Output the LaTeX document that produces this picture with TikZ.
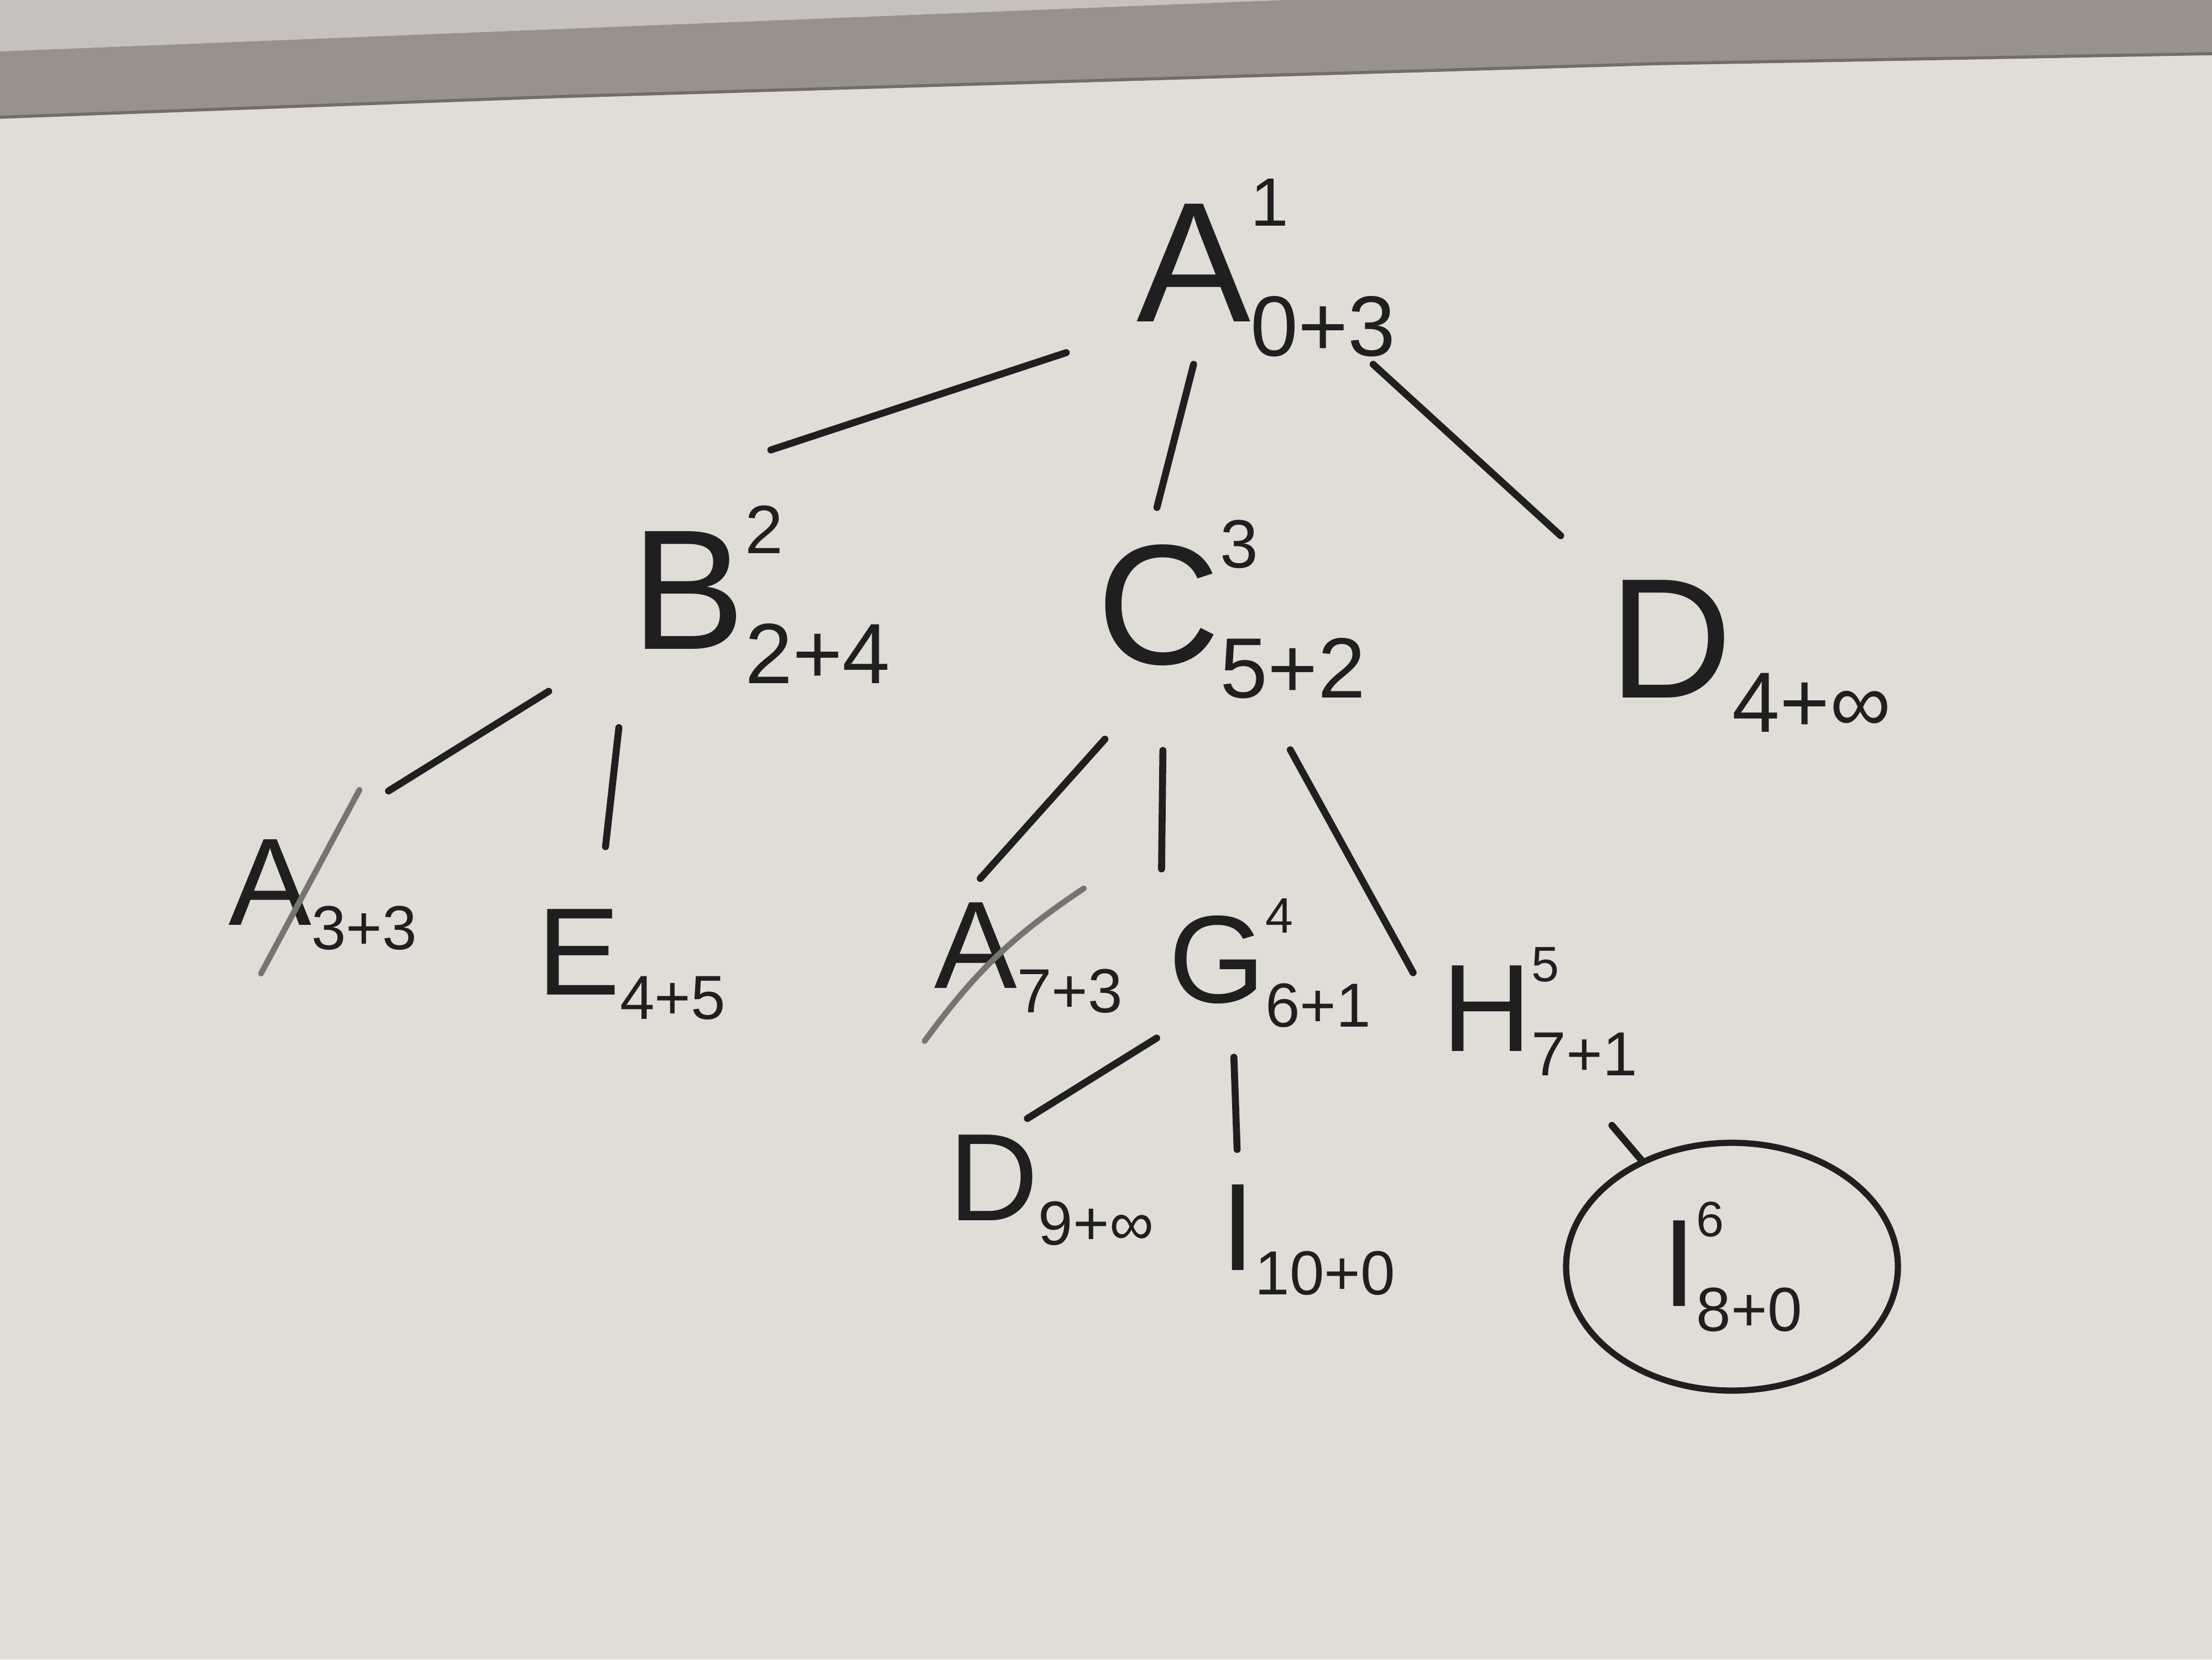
\documentclass[tikz,border=0pt]{standalone}
\usepackage{fontspec}
\setmainfont{Liberation Sans}
\usetikzlibrary{shapes.geometric}

\definecolor{board}{RGB}{224,221,215}
\definecolor{wall}{RGB}{198,193,188}
\definecolor{ledge}{RGB}{152,145,140}
\definecolor{marker}{RGB}{32,31,31}
\definecolor{faded}{RGB}{118,116,114}

% letter with its order (top) and cost (bottom)
\makeatletter
\newcommand{\nodetext}[3]{#1%
    \rlap{\raisebox{.56em}{\fontsize{\fpeval{.4*\f@size}}{0}\selectfont #2}}%
    \raisebox{-.2em}{\fontsize{\fpeval{.5*\f@size}}{0}\selectfont #3}}
\makeatother

\begin{document}
\begin{tikzpicture}[line width=1.8pt, line cap=round, color=marker,
            main node/.style={font=\fontsize{32}{36}\selectfont, text=marker, inner sep=1pt,
                              anchor=base west, xshift=-1mm},
            top node/.style={main node, font=\fontsize{44}{48}\selectfont},
            goal node/.style={main node, anchor=center, draw, ellipse, line width=1.6pt,
                              minimum width=3cm, minimum height=2.24cm},
            strike/.style={faded, line width=1.5pt}]

        % Board and ledge
        \useasboundingbox (0,0) rectangle (20,15);
        \fill[board] (0,0) rectangle (20,15);
        \fill[wall] (0,14.535) -- (11.625,15) -- (0,15) -- cycle;
        \fill[ledge] (0,13.94) -- (5,14.125) -- (15,14.425) -- (20,14.515)
            -- (20,15) -- (11.625,15) -- (0,14.535) -- cycle;
        \draw[ledge!75!black, line width=0.8pt] (0,13.94) -- (5,14.125) -- (15,14.425) -- (20,14.515);

        % Define vertices
        \node[top node] (a1) at (10.31,12.09) {\nodetext{A}{1}{0+3}};
        \node[top node] (b2) at (5.74,9.13) {\nodetext{B}{2}{2+4}};
        \node[top node] (c3) at (9.95,9.0) {\nodetext{C}{3}{5+2}};
        \node[top node] (d1) at (14.58,8.69) {\nodetext{D}{}{4+∞}};
        \node[main node] (a2) at (2.1,6.64) {\nodetext{A}{}{3+3}};
        \node[main node] (e1) at (4.89,6.01) {\nodetext{E}{}{4+5}};
        \node[main node] (a3) at (8.48,6.07) {\nodetext{A}{}{7+3}};
        \node[main node] (g4) at (10.6,5.94) {\nodetext{G}{4}{6+1}};
        \node[main node] (h5) at (13.07,5.50) {\nodetext{H}{5}{7+1}};
        \node[main node] (d2) at (8.61,3.97) {\nodetext{D}{}{9+∞}};
        \node[main node] (i1) at (11.07,3.52) {\nodetext{I}{}{10+0}};
        \node[goal node] (i6) at (15.76,3.55) {\nodetext{I}{6}{8+0}};

        % Draw edges
        \path
            (a1.205) edge[shorten <=6mm, shorten >=14mm] (b2.north west)
            (a1.233) edge[shorten <=0mm, shorten >=0.5mm] (c3.128)
            (a1.-42) edge[shorten <=0mm, shorten >=5mm] (d1.north west)
            (b2.200) edge[shorten <=8mm, shorten >=7mm] (a2.north)
            (b2.213) edge[shorten <=4mm, shorten >=5mm] (e1.117)
            (c3.225) edge[shorten <=4mm, shorten >=2mm] (a3.135)
            (c3.235) edge[shorten <=4mm, shorten >=2mm] (g4.north west)
            (c3.-70) edge[shorten <=4.5mm, shorten >=4mm] (h5.west)
            (g4.south west) edge[shorten <=0.5mm, shorten >=1.5mm] (d2.121)
            (g4.243) edge[shorten <=2mm, shorten >=2.5mm] (i1.138)
            (h5.-63) edge[shorten <=5mm] (i6);

        % Crossed-out repeats
        \draw[strike] ([shift={(1.25,1.22)}]a2.base west) -- ([shift={(0.36,-0.44)}]a2.base west);
        \draw[strike] ([shift={(1.42,0.9)}]a3.base west) to[bend right=10] ([shift={(-0.02,-0.48)}]a3.base west);

\end{tikzpicture}
\end{document}
